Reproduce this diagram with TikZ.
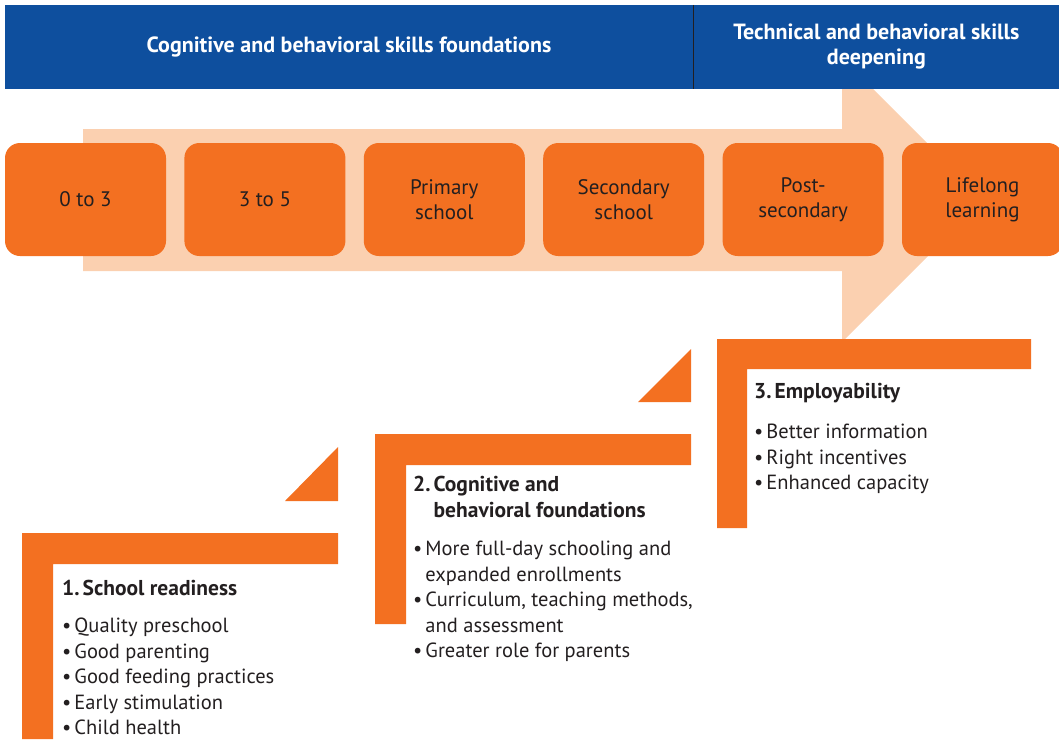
\documentclass[tikz,border=0pt]{standalone}
\usepackage{fontspec}
\setmainfont{PT Sans}
\usetikzlibrary{positioning}
\definecolor{hdrblue}{HTML}{0E4F9E}
\definecolor{boxorange}{HTML}{F37021}
\definecolor{arrowpeach}{HTML}{FBD0B0}
\definecolor{txtdark}{HTML}{231F20}
\newcommand{\bul}{\textbullet\kern3pt}

\begin{document}
\begin{tikzpicture}[
    x=1pt, y=-1pt,
    node distance=18pt,
    header/.style={
        fill=hdrblue,
        text=white,
        font=\bfseries\fontsize{22}{25}\selectfont,
        align=center,
        minimum height=84pt,
        inner sep=0pt
    },
    agebox/.style={
        fill=boxorange,
        text=txtdark,
        rounded corners=15pt,
        minimum width=161pt,
        minimum height=113pt,
        align=center,
        inner sep=0pt,
        font=\fontsize{21}{25}\selectfont
    },
    steptitle/.style={anchor=west, inner sep=0pt, align=left, text=txtdark, font=\bfseries\fontsize{21.5}{26}\selectfont},
    steplist/.style={anchor=north west, inner sep=0pt, align=left, text=txtdark, font=\fontsize{20.5}{25.5}\selectfont},
    bracket/.style={fill=boxorange},
    ]

    \useasboundingbox (0,0) rectangle (1059,739);

    % light arrow behind the boxes
    \fill[arrowpeach] (83,129) -- (842,129) -- (842,58) -- (984,200) -- (842,342) -- (842,271) -- (83,271) -- cycle;

    % header band
    \node[header, minimum width=688pt] (hdrleft) at (349,47) {Cognitive and behavioral skills foundations};
    \node[header, minimum width=366pt, right=0pt of hdrleft] (hdrright) {Technical and behavioral skills\\deepening};
    \draw[txtdark, line width=1pt] (hdrleft.north east) -- (hdrleft.south east);

    % age boxes
    \node[agebox] (age1) at (85.5,199.5) {0 to 3};
    \node[agebox, right=of age1] (age2) {3 to 5};
    \node[agebox, right=of age2] (age3) {Primary\\school};
    \node[agebox, right=of age3] (age4) {Secondary\\school};
    \node[agebox, right=of age4] (age5) {Post-\\secondary};
    \node[agebox, right=of age5] (age6) {Lifelong\\learning};

    % steps
    \fill[bracket] (22,533) -- (338,533) -- (338,564) -- (53,564) -- (53,739) -- (22,739) -- cycle;
    \fill[bracket] (285,501) -- (338,501) -- (338,447) -- cycle;
    \fill[bracket] (375,434) -- (691,434) -- (691,465) -- (406,465) -- (406,624) -- (375,624) -- cycle;
    \fill[bracket] (638,402) -- (691,402) -- (691,349) -- cycle;
    \fill[bracket] (717,339) -- (1031,339) -- (1031,369) -- (747,369) -- (747,528) -- (717,528) -- cycle;

    \node[steptitle] (title1) at (62,588) {1.\kern3pt School readiness};
    \node[steplist] (list1) at (62,618) {\bul Quality preschool\\\bul Good parenting\\\bul Good feeding practices\\\bul Early stimulation\\\bul Child health};

    \node[steptitle] (title2) at (413,497) {2.\kern3pt Cognitive and\\\phantom{2.\kern3pt}behavioral foundations};
    \node[steplist] (list2) at (413,541) {\bul More full-day schooling and\\\phantom{\bul}expanded enrollments\\\bul Curriculum, teaching methods,\\\phantom{\bul}and assessment\\\bul Greater role for parents};

    \node[steptitle] (title3) at (754,393) {3.\kern3pt Employability};
    \node[steplist] (list3) at (754,424) {\bul Better information\\\bul Right incentives\\\bul Enhanced capacity};
\end{tikzpicture}
\end{document}
